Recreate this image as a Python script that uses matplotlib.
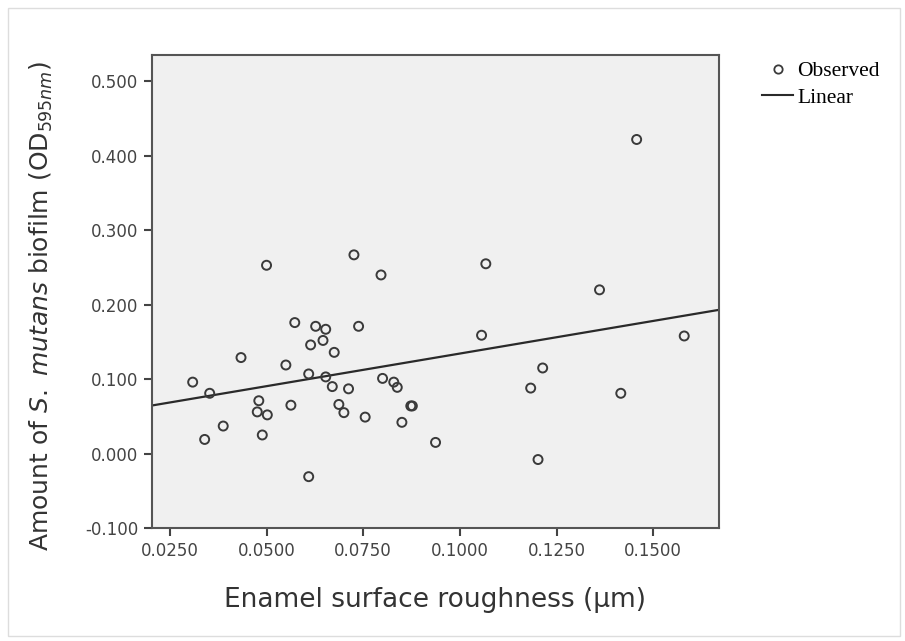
import matplotlib.pyplot as plt
import numpy as np
from matplotlib.lines import Line2D
from matplotlib.patches import Rectangle

# Шероховатость эмали (мкм)
roughness = [0.0309, 0.0353, 0.0388, 0.0340, 0.0480, 0.0476, 0.0502, 0.0489,
             0.0563, 0.0500, 0.0573, 0.0434, 0.0550,
             0.0726, 0.0796, 0.0627, 0.0653, 0.0646, 0.0614, 0.0675, 0.0738,
             0.0609, 0.0653, 0.0670, 0.0712, 0.0800, 0.0829, 0.0838, 0.0687,
             0.0700, 0.0755, 0.0850, 0.0873, 0.0877, 0.0937, 0.0609,
             0.1067, 0.1056, 0.1214, 0.1183, 0.1202,
             0.1457, 0.1361, 0.1580, 0.1416]

# Количество биоплёнки S. mutans (OD595nm)
biofilm = [0.096, 0.081, 0.037, 0.019, 0.071, 0.056, 0.052, 0.025,
           0.065, 0.253, 0.176, 0.129, 0.119,
           0.267, 0.240, 0.171, 0.167, 0.152, 0.146, 0.136, 0.171,
           0.107, 0.103, 0.090, 0.087, 0.101, 0.096, 0.089, 0.066,
           0.055, 0.049, 0.042, 0.064, 0.064, 0.015, -0.031,
           0.255, 0.159, 0.115, 0.088, -0.008,
           0.422, 0.220, 0.158, 0.081]

x_ticks = [0.025, 0.05, 0.075, 0.1, 0.125, 0.15]
y_ticks = [-0.1, 0.0, 0.1, 0.2, 0.3, 0.4, 0.5]

x = np.array(roughness)
y = np.array(biofilm)

fig = plt.figure(figsize=(9.05, 6.41), dpi=100)
ax = fig.add_axes([0.1676, 0.1758, 0.6269, 0.7384])
ax.set_facecolor('#f0f0f0')

# Рамка вокруг рисунка
fig.patches.append(Rectangle((0.009, 0.008), 0.985, 0.98, transform=fig.transFigure,
                             fill=False, edgecolor='#dddddd', linewidth=1))

# Точки наблюдений
ax.scatter(x, y, s=42, facecolors='none', edgecolors='#3a3a3a',
           linewidths=1.4, zorder=3)

# Линейная регрессия
slope, intercept = np.polyfit(x, y, 1)
xlim = (0.0203, 0.1670)
xs = np.array(xlim)
ax.plot(xs, intercept + slope * xs, color='#2a2a2a', linewidth=1.6, zorder=2)

ax.set_xlim(*xlim)
ax.set_ylim(-0.1004, 0.5355)
ax.set_xticks(x_ticks)
ax.set_xticklabels([f'{v:.4f}' for v in x_ticks])
ax.set_yticks(y_ticks)
ax.set_yticklabels([f'{v:.3f}' for v in y_ticks])

for s in ax.spines.values():
    s.set_color('#555555')
    s.set_linewidth(1.5)
ax.tick_params(direction='out', length=6, width=1.5, color='#444444',
               labelsize=12, labelcolor='#444444')

ax.set_xlabel('Enamel surface roughness (µm)', fontsize=19, color='#333333')
ax.xaxis.set_label_coords(0.5, -0.125)
ax.set_ylabel(r'Amount of $\it{S.\ mutans}$ biofilm (OD$_{595nm}$)',
              fontsize=18, color='#333333')
ax.yaxis.set_label_coords(-0.1705, 0.47)

# Легенда справа
handles = [Line2D([], [], marker='o', linestyle='none', markerfacecolor='none',
                  markeredgecolor='#3a3a3a', markersize=6, markeredgewidth=1.3),
           Line2D([], [], color='#2a2a2a', linewidth=1.5)]
fig.legend(handles, ['Observed', 'Linear'], loc='upper left',
           bbox_to_anchor=(0.8325, 0.918), frameon=False,
           prop={'family': 'Liberation Serif', 'size': 15.5},
           handlelength=1.45, handletextpad=0.2, labelspacing=0.3,
           borderaxespad=0)

plt.savefig('out.png', dpi=100)
